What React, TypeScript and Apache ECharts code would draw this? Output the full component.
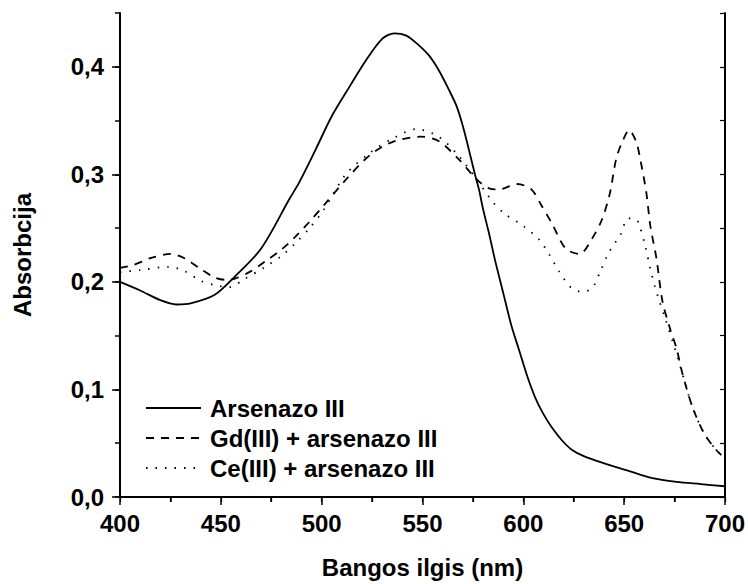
import React, { useEffect, useRef } from "react";
import * as echarts from "echarts";

const arsenazoX = [400, 410, 420, 428, 435, 447, 457, 470, 484, 489, 497, 505, 514, 522, 530, 536, 542, 547, 553, 558, 563, 567, 570, 573, 576, 578, 580, 583, 586, 590, 594, 598, 602, 606, 610, 614, 619, 624, 630, 639, 651, 664, 676, 688, 700];
const arsenazoY = [0.2, 0.192, 0.183, 0.179, 0.18, 0.188, 0.205, 0.231, 0.277, 0.293, 0.323, 0.354, 0.382, 0.406, 0.426, 0.431, 0.429, 0.422, 0.411, 0.397, 0.379, 0.363, 0.345, 0.323, 0.3, 0.286, 0.268, 0.245, 0.22, 0.19, 0.16, 0.136, 0.112, 0.092, 0.077, 0.065, 0.053, 0.044, 0.038, 0.032, 0.025, 0.0175, 0.014, 0.012, 0.01];

const gdX = [400, 407, 415, 425, 432, 440, 447, 452, 457, 465, 472, 480, 487, 494, 501, 512, 524, 535, 549, 558, 568, 577, 583, 588, 597, 604, 609, 614, 621, 628, 634, 639, 643, 646, 649, 652.5, 656, 658, 661, 663, 666, 669, 673, 676, 679, 684, 690, 696, 700];
const gdY = [0.213, 0.216, 0.222, 0.226, 0.222, 0.212, 0.204, 0.202, 0.203, 0.21, 0.219, 0.23, 0.242, 0.256, 0.271, 0.295, 0.318, 0.33, 0.335, 0.331, 0.314, 0.295, 0.287, 0.286, 0.291, 0.286, 0.271, 0.255, 0.231, 0.226, 0.24, 0.258, 0.283, 0.314, 0.33, 0.341, 0.33, 0.314, 0.283, 0.252, 0.222, 0.182, 0.155, 0.138, 0.114, 0.083, 0.058, 0.043, 0.036];

const ceX = [400, 410, 424, 432, 440, 447, 454, 462, 472, 480, 487, 494, 501, 512, 524, 535, 547, 558, 568, 577, 585, 591, 600, 608, 613, 618, 624, 629, 634, 638, 642, 645, 648, 652, 656, 658, 660.5, 663, 665.5, 667, 670, 674, 679, 684, 690, 696, 700];
const ceY = [0.209, 0.211, 0.214, 0.21, 0.201, 0.197, 0.195, 0.203, 0.214, 0.224, 0.236, 0.25, 0.267, 0.3, 0.32, 0.333, 0.342, 0.335, 0.317, 0.295, 0.274, 0.263, 0.252, 0.239, 0.225, 0.209, 0.194, 0.191, 0.194, 0.209, 0.226, 0.235, 0.243, 0.259, 0.258, 0.25, 0.233, 0.212, 0.194, 0.185, 0.168, 0.145, 0.114, 0.083, 0.058, 0.043, 0.036];

const seriesNames = ["Arsenazo III", "Gd(III) + arsenazo III", "Ce(III) + arsenazo III"];
const yMajorTicks = [0, 0.1, 0.2, 0.3, 0.4];
const xName = "Bangos ilgis (nm)";
const yName = "Absorbcija";

const FONT = "'Liberation Sans', Arial, sans-serif";

function pairs(xs: number[], ys: number[]) {
  return xs.map((x, i) => [x, ys[i]]);
}

export default function App() {
  const ref = useRef<HTMLDivElement>(null);
  useEffect(() => {
    if (!ref.current) return;
    const chart = echarts.init(ref.current, null, { renderer: "svg" });
    const axisLine = { show: true, lineStyle: { color: "#000", width: 2 } };
    const labelStyle = { color: "#000", fontSize: 24, fontWeight: "bold" as const, fontFamily: FONT };
    chart.setOption({
      animation: false,
      backgroundColor: "#fff",
      grid: { left: 120, right: 22, top: 13, bottom: 85, containLabel: false },
      legend: {
        orient: "vertical",
        left: 145,
        top: 396,
        padding: 0,
        itemWidth: 55,
        itemHeight: 12,
        itemGap: 6,
        data: seriesNames,
        itemStyle: { opacity: 0 },
        textStyle: { ...labelStyle, lineHeight: 24, padding: [0, 0, 0, 4] },
      },
      xAxis: [
        {
          type: "value",
          min: 400,
          max: 700,
          interval: 50,
          position: "bottom",
          axisLine,
          axisTick: { show: true, length: 8, lineStyle: { color: "#000", width: 1.5 } },
          minorTick: { show: true, splitNumber: 2, length: 5, lineStyle: { color: "#000", width: 1.5 } },
          splitLine: { show: false },
          minorSplitLine: { show: false },
          axisLabel: { ...labelStyle, margin: 14 },
          name: xName,
          nameLocation: "middle",
          nameGap: 58,
          nameTextStyle: labelStyle,
        },
        {
          type: "value",
          min: 400,
          max: 700,
          interval: 25,
          position: "top",
          axisLine,
          axisTick: { show: true, inside: true, length: 5, lineStyle: { color: "#000", width: 1.2 } },
          axisLabel: { show: false },
          splitLine: { show: false },
        },
      ],
      yAxis: [
        {
          type: "value",
          min: 0,
          max: 0.45,
          interval: 0.1,
          position: "left",
          axisLine,
          axisTick: { show: true, length: 8, customValues: yMajorTicks, lineStyle: { color: "#000", width: 1.5 } },
          axisLabel: {
            ...labelStyle,
            margin: 16,
            customValues: yMajorTicks,
            formatter: (v: number) => v.toFixed(1).replace(".", ","),
          },
          splitLine: { show: false },
          name: yName,
          nameLocation: "middle",
          nameGap: 86,
          nameTextStyle: labelStyle,
        },
        {
          type: "value",
          min: 0,
          max: 0.45,
          interval: 0.05,
          position: "right",
          axisLine,
          axisTick: { show: true, inside: true, length: 5, lineStyle: { color: "#000", width: 1.2 } },
          axisLabel: { show: false },
          splitLine: { show: false },
        },
        {
          type: "value",
          min: 0,
          max: 0.45,
          interval: 0.05,
          position: "left",
          axisLine: { show: false },
          axisTick: { show: true, length: 5, lineStyle: { color: "#000", width: 1.5 } },
          axisLabel: { show: false },
          splitLine: { show: false },
        },
      ],
      series: [
        {
          name: seriesNames[0],
          type: "line",
          data: pairs(arsenazoX, arsenazoY),
          smooth: 0.3,
          symbol: "none",
          lineStyle: { color: "#000", width: 1.8, type: "solid" },
          itemStyle: { color: "#000" },
        },
        {
          name: seriesNames[1],
          type: "line",
          data: pairs(gdX, gdY),
          smooth: 0.3,
          symbol: "none",
          lineStyle: { color: "#000", width: 1.8, type: [8, 7] },
          itemStyle: { color: "#000" },
        },
        {
          name: seriesNames[2],
          type: "line",
          data: pairs(ceX, ceY),
          smooth: 0.3,
          symbol: "none",
          lineStyle: { color: "#000", width: 1.8, type: [1.5, 8] },
          itemStyle: { color: "#000" },
        },
      ],
    });
    return () => chart.dispose();
  }, []);
  return <div ref={ref} style={{ width: 748, height: 584, position: "absolute", left: 0, top: 0 }} />;
}
